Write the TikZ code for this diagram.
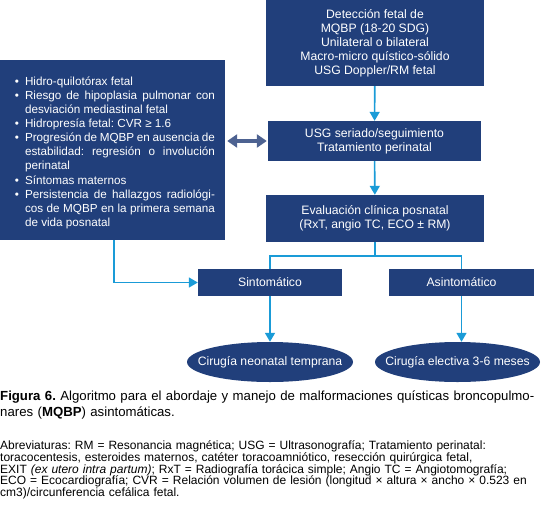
\documentclass[tikz,border=0pt]{standalone}
\usepackage{fontspec}
\setmainfont{Liberation Sans}
\usepackage{enumitem}
\usetikzlibrary{positioning,arrows.meta,shapes.geometric,calc}
\definecolor{navy}{RGB}{33,63,123}
\definecolor{skyblue}{RGB}{26,155,215}
\definecolor{slate}{RGB}{77,98,145}
\frenchspacing

\begin{document}
\begin{tikzpicture}[x=1pt,y=-1pt,
  box/.style={fill=navy, text=white, inner sep=0pt, align=center, font=\fontsize{12.2}{14}\selectfont},
  flow/.style={draw=skyblue, line width=1.6pt},
  tip/.style={-{Triangle[length=9pt,width=10pt]}}]
\useasboundingbox (0,0) rectangle (541,520);
\node[box, minimum width=218, minimum height=86] (detect) at (375,43) {Detección fetal de\\MQBP (18-20 SDG)\\Unilateral o bilateral\\Macro-micro quístico-sólido\\USG Doppler/RM fetal};
\node[box, minimum width=213, minimum height=40] (usg) at (374.5,141) {USG seriado/seguimiento\\Tratamiento perinatal};
\node[box, minimum width=218, minimum height=47] (eval) at (375,218.5) {Evaluación clínica posnatal\\(RxT, angio TC, ECO ± RM)};
\node[box, minimum width=144, minimum height=27] (sint) at (270,282.5) {Sintomático};
\node[box, minimum width=145, minimum height=27] (asint) at (461.5,282.5) {Asintomático};
\fill[navy] (270,362) ellipse [x radius=83, y radius=20];
\fill[navy] (457.5,362) ellipse [x radius=82.5, y radius=20];
\node[box, fill=none, minimum width=166, minimum height=40] (cirneo) at (270,362) {Cirugía neonatal temprana};
\node[box, fill=none, minimum width=165, minimum height=40] (cirelec) at (457.5,362) {Cirugía electiva 3-6 meses};
\node[box, align=justify, text width=205pt, inner xsep=10pt, minimum height=180, font=\fontsize{11.7}{14.1}\selectfont] (crit) at (112.5,150) {%
\begin{itemize}[leftmargin=15pt, labelsep=6pt, itemsep=0pt, parsep=0pt, topsep=0pt, label={\textbullet}]
\item Hidro-quilotórax fetal
\item Riesgo de hipoplasia pulmonar con\linebreak desviación mediastinal fetal
\item Hidropresía fetal: CVR ≥ 1.6
\item Progresión de MQBP en ausencia de\linebreak estabilidad: regresión o involución\linebreak perinatal
\item Síntomas maternos
\item Persistencia de hallazgos radiológi-\linebreak cos de MQBP en la primera semana\linebreak de vida posnatal
\end{itemize}};
\coordinate (split) at ($(eval.south)+(0,14)$);
\coordinate (critout) at (114,240);
% main flow
\draw[flow, tip] (detect) -- (usg);
\draw[flow, tip] (usg) -- (eval);
\draw[flow] (eval.south) -- (split) -| (sint.north);
\draw[flow] (split) -| (asint.north);
\draw[flow, tip] (critout) |- (sint.west);
\draw[flow, tip] (sint.south) -- (sint.south |- cirneo.north);
\draw[flow, tip] (asint.south) -- (asint.south |- cirelec.north);
\draw[draw=slate, line width=3.5pt, {Triangle[length=10pt,width=13pt]}-{Triangle[length=10pt,width=13pt]}, shorten <=2pt, shorten >=1pt] (crit.east |- usg.west) -- (usg.west);
% caption
\node[anchor=north west, inner sep=0pt, text width=541pt, align=left, font=\fontsize{13.2}{15.8}\selectfont] (caption) at (0,391) {\textbf{Figura 6.} Algoritmo para el abordaje y manejo de malformaciones quísticas broncopulmo-\\nares (\textbf{MQBP}) asintomáticas.};
\node[anchor=north west, inner sep=0pt, text width=541pt, align=left, font=\fontsize{12}{11.8}\selectfont] (abbrev) at (0,440.5) {Abreviaturas: RM = Resonancia magnética; USG = Ultrasonografía; Tratamiento perinatal:\\toracocentesis, esteroides maternos, catéter toracoamniótico, resección quirúrgica fetal,\\EXIT \textit{(ex utero intra partum)}; RxT = Radiografía torácica simple; Angio TC = Angiotomografía;\\ECO = Ecocardiografía; CVR = Relación volumen de lesión (longitud × altura × ancho × 0.523 en\\cm3)/circunferencia cefálica fetal.};
\end{tikzpicture}
\end{document}
